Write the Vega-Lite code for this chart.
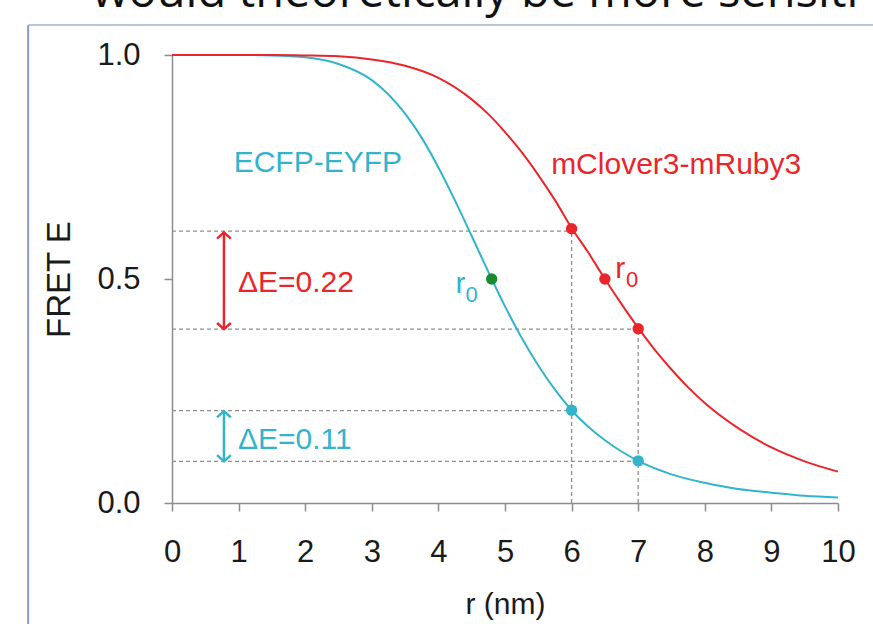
{
  "$schema": "https://vega.github.io/schema/vega-lite/v6.json",
  "width": 666,
  "height": 448,
  "autosize": "none",
  "padding": {"left": 172, "top": 55, "right": 35, "bottom": 121},
  "background": "white",
  "config": {
    "view": {"stroke": null},
    "axis": {
      "domainColor": "#8c8c8c", "domainWidth": 1.5,
      "tickColor": "#8c8c8c", "tickWidth": 1.5, "tickSize": 8,
      "labelFont": "Liberation Sans", "labelFontSize": 31, "labelColor": "#1a1a1a",
      "titleFont": "Liberation Sans", "titleFontWeight": "normal", "titleColor": "#1a1a1a",
      "grid": false, "labelOverlap": false, "labelBound": false
    }
  },
  "datasets": {
    "curves": [
      {"r": 0, "E": 1.0, "series": "ECFP-EYFP"},
      {"r": 0.5, "E": 1.0, "series": "ECFP-EYFP"},
      {"r": 1, "E": 1.0, "series": "ECFP-EYFP"},
      {"r": 1.5, "E": 0.999, "series": "ECFP-EYFP"},
      {"r": 2, "E": 0.995, "series": "ECFP-EYFP"},
      {"r": 2.5, "E": 0.980, "series": "ECFP-EYFP"},
      {"r": 3, "E": 0.944, "series": "ECFP-EYFP"},
      {"r": 3.25, "E": 0.912, "series": "ECFP-EYFP"},
      {"r": 3.5, "E": 0.869, "series": "ECFP-EYFP"},
      {"r": 3.75, "E": 0.815, "series": "ECFP-EYFP"},
      {"r": 4, "E": 0.749, "series": "ECFP-EYFP"},
      {"r": 4.25, "E": 0.675, "series": "ECFP-EYFP"},
      {"r": 4.5, "E": 0.596, "series": "ECFP-EYFP"},
      {"r": 4.75, "E": 0.516, "series": "ECFP-EYFP"},
      {"r": 5, "E": 0.439, "series": "ECFP-EYFP"},
      {"r": 5.25, "E": 0.369, "series": "ECFP-EYFP"},
      {"r": 5.5, "E": 0.307, "series": "ECFP-EYFP"},
      {"r": 5.75, "E": 0.253, "series": "ECFP-EYFP"},
      {"r": 6, "E": 0.207, "series": "ECFP-EYFP"},
      {"r": 6.25, "E": 0.170, "series": "ECFP-EYFP"},
      {"r": 6.5, "E": 0.140, "series": "ECFP-EYFP"},
      {"r": 6.75, "E": 0.115, "series": "ECFP-EYFP"},
      {"r": 7, "E": 0.094, "series": "ECFP-EYFP"},
      {"r": 7.5, "E": 0.064, "series": "ECFP-EYFP"},
      {"r": 8, "E": 0.045, "series": "ECFP-EYFP"},
      {"r": 8.5, "E": 0.031, "series": "ECFP-EYFP"},
      {"r": 9, "E": 0.023, "series": "ECFP-EYFP"},
      {"r": 9.5, "E": 0.016, "series": "ECFP-EYFP"},
      {"r": 10, "E": 0.012, "series": "ECFP-EYFP"},
      {"r": 0, "E": 1.0, "series": "mClover3-mRuby3"},
      {"r": 1, "E": 1.0, "series": "mClover3-mRuby3"},
      {"r": 1.5, "E": 1.0, "series": "mClover3-mRuby3"},
      {"r": 2, "E": 0.999, "series": "mClover3-mRuby3"},
      {"r": 2.5, "E": 0.997, "series": "mClover3-mRuby3"},
      {"r": 3, "E": 0.990, "series": "mClover3-mRuby3"},
      {"r": 3.5, "E": 0.976, "series": "mClover3-mRuby3"},
      {"r": 4, "E": 0.949, "series": "mClover3-mRuby3"},
      {"r": 4.5, "E": 0.901, "series": "mClover3-mRuby3"},
      {"r": 4.75, "E": 0.868, "series": "mClover3-mRuby3"},
      {"r": 5, "E": 0.828, "series": "mClover3-mRuby3"},
      {"r": 5.25, "E": 0.783, "series": "mClover3-mRuby3"},
      {"r": 5.5, "E": 0.732, "series": "mClover3-mRuby3"},
      {"r": 5.75, "E": 0.676, "series": "mClover3-mRuby3"},
      {"r": 6, "E": 0.614, "series": "mClover3-mRuby3"},
      {"r": 6.25, "E": 0.559, "series": "mClover3-mRuby3"},
      {"r": 6.5, "E": 0.5, "series": "mClover3-mRuby3"},
      {"r": 6.75, "E": 0.444, "series": "mClover3-mRuby3"},
      {"r": 7, "E": 0.391, "series": "mClover3-mRuby3"},
      {"r": 7.25, "E": 0.342, "series": "mClover3-mRuby3"},
      {"r": 7.5, "E": 0.298, "series": "mClover3-mRuby3"},
      {"r": 7.75, "E": 0.258, "series": "mClover3-mRuby3"},
      {"r": 8, "E": 0.223, "series": "mClover3-mRuby3"},
      {"r": 8.5, "E": 0.167, "series": "mClover3-mRuby3"},
      {"r": 9, "E": 0.124, "series": "mClover3-mRuby3"},
      {"r": 9.5, "E": 0.093, "series": "mClover3-mRuby3"},
      {"r": 10, "E": 0.070, "series": "mClover3-mRuby3"}
    ],
    "dots": [
      {"r": 6, "E": 0.612, "series": "mClover3-mRuby3"},
      {"r": 6.5, "E": 0.5, "series": "mClover3-mRuby3"},
      {"r": 7, "E": 0.389, "series": "mClover3-mRuby3"},
      {"r": 6, "E": 0.207, "series": "ECFP-EYFP"},
      {"r": 7, "E": 0.094, "series": "ECFP-EYFP"},
      {"r": 4.8, "E": 0.5, "series": "r0"}
    ],
    "hdash": [
      {"x": 0, "x2": 6, "y": 0.607},
      {"x": 0, "x2": 7, "y": 0.388},
      {"x": 0, "x2": 6, "y": 0.206},
      {"x": 0, "x2": 7, "y": 0.093}
    ],
    "vdash": [
      {"x": 6, "y": 0, "y2": 0.607},
      {"x": 7, "y": 0, "y2": 0.382}
    ],
    "shafts": [
      {"x": 0.78, "y": 0.388, "y2": 0.604, "series": "mClover3-mRuby3"},
      {"x": 0.78, "y": 0.093, "y2": 0.205, "series": "ECFP-EYFP"}
    ],
    "heads": [
      {"x": 0.78, "y": 0.604, "dir": "up", "series": "mClover3-mRuby3"},
      {"x": 0.78, "y": 0.388, "dir": "down", "series": "mClover3-mRuby3"},
      {"x": 0.78, "y": 0.205, "dir": "up", "series": "ECFP-EYFP"},
      {"x": 0.78, "y": 0.093, "dir": "down", "series": "ECFP-EYFP"}
    ],
    "labels": [
      {"x": 2.19, "y": 0.759, "text": "ECFP-EYFP", "series": "ECFP-EYFP"},
      {"x": 7.57, "y": 0.754, "text": "mClover3-mRuby3", "series": "mClover3-mRuby3"}
    ],
    "deltas": [
      {"x": 0.99, "y": 0.491, "text": "ΔE=0.22", "series": "mClover3-mRuby3"},
      {"x": 0.99, "y": 0.141, "text": "ΔE=0.11", "series": "ECFP-EYFP"}
    ],
    "rlabels": [
      {"x": 4.33, "y": 0.488, "text": "r", "series": "ECFP-EYFP"},
      {"x": 6.73, "y": 0.522, "text": "r", "series": "mClover3-mRuby3"}
    ],
    "subs": [
      {"x": 4.50, "y": 0.464, "text": "0", "series": "ECFP-EYFP"},
      {"x": 6.91, "y": 0.498, "text": "0", "series": "mClover3-mRuby3"}
    ],
    "frameV": [{"x": -2.16, "y": -0.3, "y2": 1.067}],
    "frameH": [{"x": -2.16, "x2": 10.7, "y": 1.067}],
    "caption": [{"x": -1.20, "y": 1.107, "text": "would theoretically be more sensiti"}]
  },
  "layer": [
    {
      "data": {"name": "frameV"},
      "mark": {"type": "rule", "color": "#8b9cc4", "strokeWidth": 2},
      "encoding": {
        "x": {"field": "x", "type": "quantitative", "scale": {"domain": [0, 10], "nice": false},
              "axis": {"values": [0,1,2,3,4,5,6,7,8,9,10], "format": "d", "title": "r (nm)", "titleFontSize": 30, "titlePadding": 22, "labelPadding": 26, "labelFlush": false}},
        "y": {"field": "y", "type": "quantitative", "scale": {"domain": [0, 1], "nice": false},
              "axis": {"values": [0, 0.5, 1], "format": ".1f", "title": "FRET E", "titleFontSize": 33, "titlePadding": 20, "labelPadding": 24}},
        "y2": {"field": "y2"}
      }
    },
    {
      "data": {"name": "frameH"},
      "mark": {"type": "rule", "color": "#a7b0c8", "strokeWidth": 1.5},
      "encoding": {
        "x": {"field": "x", "type": "quantitative"},
        "x2": {"field": "x2"},
        "y": {"field": "y", "type": "quantitative"}
      }
    },
    {
      "data": {"name": "caption"},
      "mark": {"type": "text", "align": "left", "baseline": "alphabetic", "font": "Open Sans", "fontSize": 47, "color": "#111111"},
      "encoding": {
        "x": {"field": "x", "type": "quantitative"},
        "y": {"field": "y", "type": "quantitative"},
        "text": {"field": "text"}
      }
    },
    {
      "data": {"name": "hdash"},
      "mark": {"type": "rule", "color": "#8f8f8f", "strokeWidth": 1.3, "strokeDash": [4, 3]},
      "encoding": {
        "x": {"field": "x", "type": "quantitative"},
        "x2": {"field": "x2"},
        "y": {"field": "y", "type": "quantitative"}
      }
    },
    {
      "data": {"name": "vdash"},
      "mark": {"type": "rule", "color": "#8f8f8f", "strokeWidth": 1.3, "strokeDash": [4, 3]},
      "encoding": {
        "x": {"field": "x", "type": "quantitative"},
        "y": {"field": "y", "type": "quantitative"},
        "y2": {"field": "y2"}
      }
    },
    {
      "data": {"name": "curves"},
      "mark": {"type": "line", "strokeWidth": 2, "interpolate": "monotone"},
      "encoding": {
        "x": {"field": "r", "type": "quantitative"},
        "y": {"field": "E", "type": "quantitative"},
        "color": {"field": "series", "type": "nominal",
                  "scale": {"domain": ["ECFP-EYFP", "mClover3-mRuby3", "r0"], "range": ["#33b4cb", "#e8262c", "#1a8a2e"]},
                  "legend": null}
      }
    },
    {
      "data": {"name": "dots"},
      "mark": {"type": "point", "filled": true, "opacity": 1, "size": 130, "shape": "circle"},
      "encoding": {
        "x": {"field": "r", "type": "quantitative"},
        "y": {"field": "E", "type": "quantitative"},
        "color": {"field": "series", "type": "nominal", "legend": null}
      }
    },
    {
      "data": {"name": "shafts"},
      "mark": {"type": "rule", "strokeWidth": 2.5},
      "encoding": {
        "x": {"field": "x", "type": "quantitative"},
        "y": {"field": "y", "type": "quantitative"},
        "y2": {"field": "y2"},
        "color": {"field": "series", "type": "nominal", "legend": null}
      }
    },
    {
      "data": {"name": "heads"},
      "mark": {"type": "point", "filled": false, "opacity": 1, "size": 190, "strokeWidth": 2.5, "strokeJoin": "miter"},
      "encoding": {
        "x": {"field": "x", "type": "quantitative"},
        "y": {"field": "y", "type": "quantitative"},
        "shape": {"field": "dir", "type": "nominal", "scale": {"domain": ["up", "down"], "range": ["M-1,0.9L0,0L1,0.9", "M-1,-0.9L0,0L1,-0.9"]}, "legend": null},
        "color": {"field": "series", "type": "nominal", "legend": null}
      }
    },
    {
      "data": {"name": "labels"},
      "mark": {"type": "text", "align": "center", "baseline": "middle", "font": "Liberation Sans", "fontSize": 30},
      "encoding": {
        "x": {"field": "x", "type": "quantitative"},
        "y": {"field": "y", "type": "quantitative"},
        "text": {"field": "text"},
        "color": {"field": "series", "type": "nominal", "legend": null}
      }
    },
    {
      "data": {"name": "deltas"},
      "mark": {"type": "text", "align": "left", "baseline": "middle", "font": "Liberation Sans", "fontSize": 30},
      "encoding": {
        "x": {"field": "x", "type": "quantitative"},
        "y": {"field": "y", "type": "quantitative"},
        "text": {"field": "text"},
        "color": {"field": "series", "type": "nominal", "legend": null}
      }
    },
    {
      "data": {"name": "rlabels"},
      "mark": {"type": "text", "align": "center", "baseline": "middle", "font": "Liberation Sans", "fontSize": 30},
      "encoding": {
        "x": {"field": "x", "type": "quantitative"},
        "y": {"field": "y", "type": "quantitative"},
        "text": {"field": "text"},
        "color": {"field": "series", "type": "nominal", "legend": null}
      }
    },
    {
      "data": {"name": "subs"},
      "mark": {"type": "text", "align": "center", "baseline": "middle", "font": "Liberation Sans", "fontSize": 22},
      "encoding": {
        "x": {"field": "x", "type": "quantitative"},
        "y": {"field": "y", "type": "quantitative"},
        "text": {"field": "text"},
        "color": {"field": "series", "type": "nominal", "legend": null}
      }
    }
  ]
}
